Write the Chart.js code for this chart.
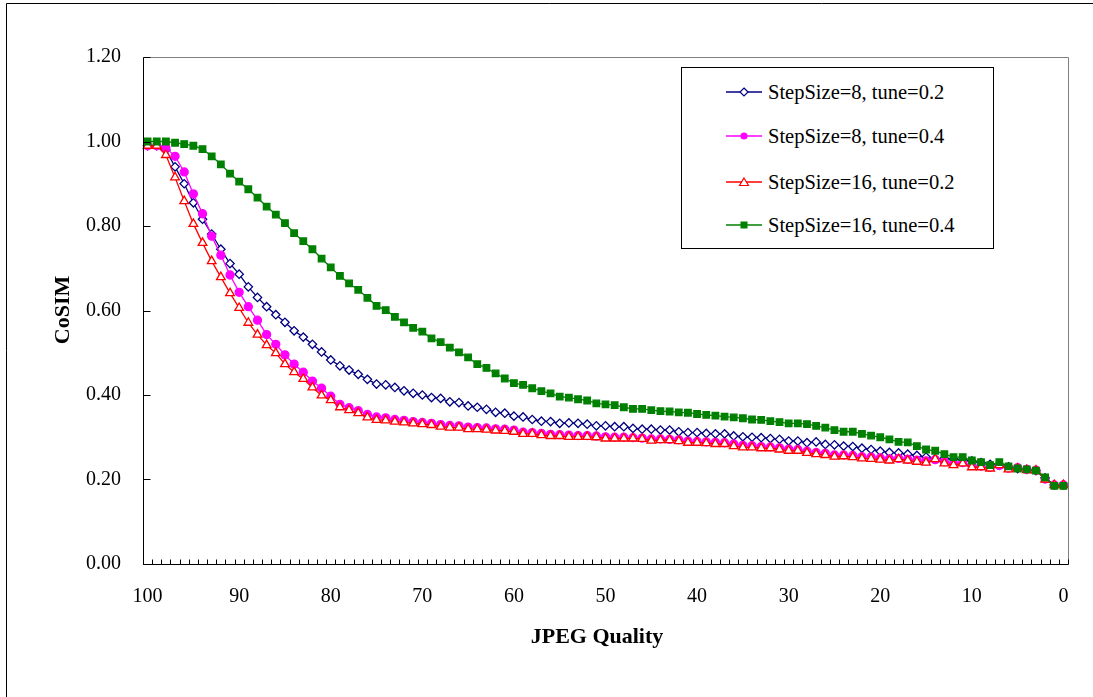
<!DOCTYPE html>
<html>
<head>
<meta charset="utf-8">
<script src="https://cdn.jsdelivr.net/npm/chart.js@4.4.1/dist/chart.umd.min.js"></script>
<style>
  html, body { margin: 0; padding: 0; background: #fff; }
  #wrap { position: relative; width: 1093px; height: 697px; font-family: "Liberation Serif", "Times New Roman", serif; color: #000; }
  #legend {
    position: absolute; left: 681px; top: 67px; width: 313px; height: 182px;
    box-sizing: border-box; border: 1px solid #000; background: #fff; font-size: 20.5px;
  }
  .row { position: absolute; left: 0; height: 24px; line-height: 24px; white-space: nowrap; }
  .row svg { position: absolute; left: 44px; top: 5px; }
  .row span { position: absolute; left: 86px; top: 0; }
  .axis-title { position: absolute; font-weight: bold; font-size: 22px; line-height: 26px; white-space: nowrap; }
  #xTitle { left: 497px; width: 200px; top: 623px; text-align: center; }
  #yTitle { left: -38px; width: 200px; top: 297px; text-align: center; transform: rotate(-90deg); }
</style>
</head>
<body>
<div id="wrap">
  <canvas id="chart" width="1093" height="697"></canvas>
  <div id="legend"></div>
  <div id="xTitle" class="axis-title"></div>
  <div id="yTitle" class="axis-title"></div>
</div>
<script>
// ---------- data ----------
const qualities = [100, 99, 98, 97, 96, 95, 94, 93, 92, 91, 90, 89, 88, 87, 86, 85, 84, 83, 82, 81,
  80, 79, 78, 77, 76, 75, 74, 73, 72, 71, 70, 69, 68, 67, 66, 65, 64, 63, 62, 61,
  60, 59, 58, 57, 56, 55, 54, 53, 52, 51, 50, 49, 48, 47, 46, 45, 44, 43, 42, 41,
  40, 39, 38, 37, 36, 35, 34, 33, 32, 31, 30, 29, 28, 27, 26, 25, 24, 23, 22, 21,
  20, 19, 18, 17, 16, 15, 14, 13, 12, 11, 10, 9, 8, 7, 6, 5, 4, 3, 2, 1, 0];

const yTicks = [0, 0.2, 0.4, 0.6, 0.8, 1.0, 1.2];

const xAxisTitle = "JPEG Quality";
const yAxisTitle = "CoSIM";
const seriesNames = ["StepSize=8, tune=0.2", "StepSize=8, tune=0.4", "StepSize=16, tune=0.2", "StepSize=16, tune=0.4"];

// StepSize=8, tune=0.2
const step8tune02 = [
  0.990, 0.990, 0.980, 0.940, 0.900, 0.855, 0.816, 0.781, 0.745, 0.711,
  0.686, 0.656, 0.631, 0.609, 0.590, 0.572, 0.552, 0.537, 0.520, 0.502,
  0.483, 0.469, 0.459, 0.449, 0.437, 0.426, 0.424, 0.418, 0.410, 0.404,
  0.400, 0.394, 0.392, 0.384, 0.382, 0.374, 0.371, 0.366, 0.359, 0.357,
  0.350, 0.348, 0.342, 0.338, 0.337, 0.333, 0.334, 0.333, 0.331, 0.327,
  0.327, 0.325, 0.325, 0.321, 0.319, 0.319, 0.317, 0.317, 0.313, 0.311,
  0.311, 0.309, 0.308, 0.308, 0.303, 0.301, 0.300, 0.299, 0.297, 0.295,
  0.291, 0.291, 0.287, 0.289, 0.283, 0.282, 0.279, 0.278, 0.274, 0.271,
  0.267, 0.264, 0.263, 0.260, 0.257, 0.253, 0.249, 0.250, 0.248, 0.247,
  0.244, 0.240, 0.236, 0.235, 0.230, 0.226, 0.224, 0.221, 0.204, 0.187,
  0.187];

// StepSize=8, tune=0.4
const step8tune04 = [
  0.990, 0.990, 0.985, 0.965, 0.928, 0.876, 0.829, 0.776, 0.731, 0.684,
  0.643, 0.609, 0.577, 0.543, 0.520, 0.495, 0.473, 0.454, 0.433, 0.416,
  0.397, 0.378, 0.370, 0.363, 0.354, 0.348, 0.346, 0.342, 0.340, 0.337,
  0.335, 0.333, 0.330, 0.328, 0.327, 0.324, 0.323, 0.322, 0.320, 0.319,
  0.317, 0.312, 0.311, 0.309, 0.307, 0.306, 0.305, 0.304, 0.304, 0.303,
  0.301, 0.300, 0.300, 0.299, 0.298, 0.296, 0.296, 0.295, 0.294, 0.291,
  0.290, 0.289, 0.288, 0.287, 0.284, 0.281, 0.280, 0.278, 0.277, 0.275,
  0.272, 0.271, 0.267, 0.264, 0.262, 0.258, 0.258, 0.257, 0.254, 0.253,
  0.251, 0.249, 0.250, 0.248, 0.246, 0.244, 0.247, 0.242, 0.238, 0.240,
  0.233, 0.232, 0.229, 0.233, 0.227, 0.228, 0.224, 0.222, 0.201, 0.187,
  0.187];

// StepSize=16, tune=0.2
const step16tune02 = [
  0.990, 0.990, 0.968, 0.915, 0.859, 0.805, 0.760, 0.717, 0.679, 0.641,
  0.606, 0.571, 0.543, 0.518, 0.499, 0.473, 0.454, 0.438, 0.418, 0.399,
  0.388, 0.371, 0.364, 0.357, 0.347, 0.341, 0.340, 0.337, 0.335, 0.333,
  0.331, 0.329, 0.325, 0.323, 0.323, 0.319, 0.319, 0.318, 0.316, 0.315,
  0.313, 0.308, 0.308, 0.305, 0.303, 0.303, 0.301, 0.301, 0.301, 0.300,
  0.297, 0.297, 0.297, 0.297, 0.296, 0.292, 0.293, 0.293, 0.291, 0.287,
  0.287, 0.286, 0.284, 0.284, 0.279, 0.276, 0.276, 0.274, 0.274, 0.271,
  0.268, 0.268, 0.263, 0.260, 0.258, 0.254, 0.255, 0.253, 0.250, 0.249,
  0.247, 0.245, 0.248, 0.245, 0.242, 0.240, 0.248, 0.238, 0.234, 0.238,
  0.229, 0.229, 0.226, 0.234, 0.224, 0.226, 0.222, 0.221, 0.200, 0.187,
  0.187];

// StepSize=16, tune=0.4
const step16tune04 = [
  1.000, 1.000, 1.000, 0.997, 0.994, 0.990, 0.982, 0.965, 0.946, 0.924,
  0.905, 0.887, 0.867, 0.846, 0.827, 0.807, 0.783, 0.764, 0.745, 0.723,
  0.702, 0.682, 0.664, 0.649, 0.630, 0.611, 0.601, 0.585, 0.572, 0.559,
  0.550, 0.534, 0.525, 0.512, 0.501, 0.489, 0.473, 0.464, 0.451, 0.439,
  0.428, 0.424, 0.416, 0.409, 0.404, 0.396, 0.394, 0.390, 0.387, 0.380,
  0.378, 0.376, 0.371, 0.367, 0.367, 0.364, 0.362, 0.361, 0.359, 0.358,
  0.355, 0.353, 0.351, 0.349, 0.347, 0.345, 0.342, 0.341, 0.338, 0.336,
  0.333, 0.333, 0.331, 0.327, 0.323, 0.317, 0.313, 0.313, 0.308, 0.304,
  0.300, 0.295, 0.289, 0.288, 0.279, 0.271, 0.268, 0.260, 0.253, 0.253,
  0.245, 0.241, 0.234, 0.241, 0.231, 0.226, 0.224, 0.221, 0.205, 0.185,
  0.185];

// ---------- styles ----------
const FONT = "'Liberation Serif', 'Times New Roman', serif";
const seriesStyles = [
  { color: "#000080", fill: "#ffffff", point: "rectRot", radius: 4.2, legend: "diamond" },
  { color: "#ff00ff", fill: "#ff00ff", point: "circle", radius: 4, legend: "circle" },
  { color: "#ff0000", fill: "#ffffff", point: "triangle", radius: 5, legend: "triangle" },
  { color: "#008000", fill: "#008000", point: "rect", radius: 4.6, legend: "square" }
];
const seriesData = [step8tune02, step8tune04, step16tune02, step16tune04];

// ---------- frame / inward ticks ----------
const framePlugin = {
  id: "frame",
  beforeDraw(chart) {
    const ctx = chart.ctx;
    ctx.save();
    ctx.fillStyle = "#fff";
    ctx.fillRect(0, 0, chart.width, chart.height);
    ctx.strokeStyle = "#000";
    ctx.lineWidth = 1;
    ctx.beginPath();
    ctx.moveTo(6.5, chart.height);
    ctx.lineTo(6.5, 3.5);
    ctx.lineTo(chart.width, 3.5);
    ctx.stroke();
    ctx.restore();
  },
  afterDraw(chart) {
    const { ctx, chartArea: a, scales: { x, y } } = chart;
    const L = Math.round(a.left) + 0.5, R = Math.round(a.right) + 0.5;
    const T = Math.round(a.top) + 0.5, B = Math.round(a.bottom) + 0.5;
    ctx.save();
    ctx.lineWidth = 1;
    ctx.strokeStyle = "#808080";
    ctx.beginPath();
    ctx.moveTo(L, T); ctx.lineTo(R, T); ctx.lineTo(R, B);
    ctx.stroke();
    ctx.strokeStyle = "#000";
    ctx.beginPath();
    ctx.moveTo(L, T); ctx.lineTo(L, B); ctx.lineTo(R, B);
    // minor ticks on category boundaries
    for (let i = 0; i <= qualities.length; i++) {
      const px = Math.round(x.getPixelForValue(i - 0.5)) + 0.5;
      ctx.moveTo(px, B); ctx.lineTo(px, B - 5);
    }
    yTicks.forEach(v => {
      const py = Math.round(y.getPixelForValue(v)) + 0.5;
      ctx.moveTo(L, py); ctx.lineTo(L + 7, py);
    });
    ctx.stroke();
    ctx.restore();
  }
};

// ---------- chart ----------
const datasets = seriesData.map((d, i) => ({
  label: seriesNames[i],
  data: d,
  borderColor: seriesStyles[i].color,
  backgroundColor: seriesStyles[i].fill,
  borderWidth: 1.3,
  pointStyle: seriesStyles[i].point,
  pointRadius: seriesStyles[i].radius,
  pointBackgroundColor: seriesStyles[i].fill,
  pointBorderColor: seriesStyles[i].color,
  pointBorderWidth: 1.3,
  tension: 0,
  fill: false,
  order: 3 - i
}));

new Chart(document.getElementById("chart"), {
  type: "line",
  data: { labels: qualities.map(String), datasets },
  plugins: [framePlugin],
  options: {
    responsive: false,
    devicePixelRatio: 1,
    animation: false,
    events: [],
    layout: { padding: { top: 57, right: 25, left: 0, bottom: 0 } },
    plugins: { legend: { display: false }, tooltip: { enabled: false } },
    scales: {
      x: {
        type: "category",
        offset: true,
        grid: { display: false, drawTicks: false },
        border: { display: false },
        ticks: {
          autoSkip: false, maxRotation: 0, minRotation: 0, padding: 21, color: "#000",
          font: { family: FONT, size: 20 },
          callback: (v, i) => (qualities[i] % 10 === 0 ? String(qualities[i]) : "")
        },
        afterFit: s => { s.height = 133; }
      },
      y: {
        min: 0, max: 1.2,
        grid: { display: false, drawTicks: false },
        border: { display: false },
        ticks: {
          stepSize: 0.2, padding: 22, color: "#000",
          font: { family: FONT, size: 20 },
          callback: v => Number(v).toFixed(2)
        },
        afterFit: s => { s.width = 143; }
      }
    }
  }
});

// ---------- axis titles ----------
document.getElementById("xTitle").textContent = xAxisTitle;
document.getElementById("yTitle").textContent = yAxisTitle;

// ---------- legend ----------
function symbolSvg(kind, color, fill) {
  let mark = "";
  if (kind === "diamond") mark = `<polygon points="18,3 22,7 18,11 14,7" fill="${fill}" stroke="${color}" stroke-width="1.2"/>`;
  if (kind === "circle") mark = `<circle cx="18" cy="7" r="3.6" fill="${fill}"/>`;
  if (kind === "triangle") mark = `<polygon points="18,3 22.5,10.5 13.5,10.5" fill="${fill}" stroke="${color}" stroke-width="1.2"/>`;
  if (kind === "square") mark = `<rect x="14.5" y="3.5" width="7" height="7" fill="${fill}"/>`;
  return `<svg width="36" height="14" viewBox="0 0 36 14"><line x1="0" y1="7" x2="36" y2="7" stroke="${color}" stroke-width="1.3"/>${mark}</svg>`;
}
const legendTops = [12, 56, 102, 145];
const legend = document.getElementById("legend");
seriesNames.forEach((name, i) => {
  const st = seriesStyles[i];
  const row = document.createElement("div");
  row.className = "row";
  row.style.top = legendTops[i] + "px";
  row.innerHTML = symbolSvg(st.legend, st.color, st.fill) + `<span>${name}</span>`;
  legend.appendChild(row);
});
</script>
</body>
</html>
